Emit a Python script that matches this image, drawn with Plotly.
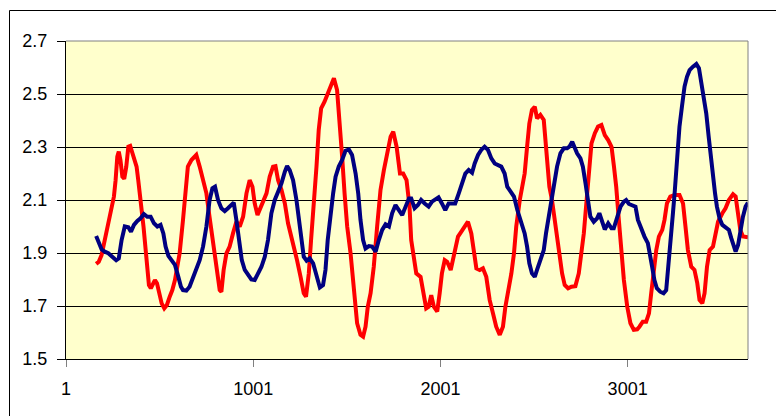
import plotly.graph_objects as go

# ---- data ----
red_x = [162, 176, 191, 203, 216, 230, 244, 257, 266, 275, 283, 292, 302, 312, 323, 334, 344, 355, 366, 378,
         387, 394, 405, 415, 426, 435, 444, 454, 465, 476, 487, 497, 512, 526, 540, 555, 569, 583, 594, 608,
         626, 640, 652, 671, 697, 715, 733, 751, 765, 778, 795, 808, 822, 831, 843, 858, 875, 893, 911, 929,
         947, 965, 982, 997, 1009, 1024, 1036, 1053, 1072, 1089, 1107, 1120, 1134, 1152, 1170, 1187, 1205, 1223, 1235, 1254,
         1271, 1283, 1298, 1310, 1325, 1339, 1351, 1364, 1382, 1400, 1417, 1432, 1449, 1464, 1476, 1489, 1503, 1521, 1539, 1556,
         1574, 1588, 1601, 1613, 1628, 1645, 1663, 1681, 1699, 1717, 1735, 1749, 1767, 1785, 1802, 1820, 1836, 1845, 1859, 1872,
         1895, 1908, 1925, 1938, 1952, 1966, 1984, 1997, 2009, 2024, 2037, 2056, 2068, 2080, 2095, 2112, 2130, 2148, 2166, 2180,
         2193, 2211, 2228, 2246, 2264, 2282, 2299, 2318, 2335, 2348, 2362, 2380, 2394, 2406, 2425, 2440, 2451, 2464, 2476, 2490,
         2505, 2517, 2535, 2553, 2562, 2571, 2583, 2597, 2612, 2624, 2636, 2651, 2665, 2683, 2701, 2722, 2740, 2754, 2767, 2779,
         2794, 2808, 2826, 2843, 2861, 2879, 2897, 2915, 2928, 2940, 2954, 2968, 2981, 2999, 3016, 3034, 3052, 3064, 3082, 3100,
         3115, 3127, 3139, 3154, 3168, 3186, 3198, 3211, 3229, 3252, 3278, 3297, 3310, 3323, 3341, 3358, 3373, 3385, 3400, 3412,
         3425, 3439, 3457, 3471, 3484, 3507, 3524, 3542, 3564, 3578, 3591, 3603, 3617, 3644]
red_y = [1.859, 1.867, 1.892, 1.93, 1.974, 2.025, 2.075, 2.113, 2.175, 2.264, 2.283, 2.25, 2.188, 2.18, 2.226, 2.301, 2.304, 2.276, 2.25, 2.226,
         2.175, 2.113, 2.062, 2.0, 1.924, 1.848, 1.779, 1.767, 1.779, 1.798, 1.786, 1.748, 1.71, 1.691, 1.704, 1.735, 1.76, 1.798, 1.848, 1.899,
         2.025, 2.15, 2.226, 2.251, 2.27, 2.226, 2.175, 2.125, 2.05, 1.987, 1.899, 1.823, 1.76, 1.754, 1.836, 1.899, 1.924, 1.974, 2.018, 2.0,
         2.037, 2.125, 2.175, 2.15, 2.087, 2.043, 2.062, 2.087, 2.125, 2.188, 2.226, 2.228, 2.175, 2.138, 2.087, 2.012, 1.962, 1.899, 1.873, 1.81,
         1.748, 1.735, 1.823, 1.949, 2.075, 2.226, 2.364, 2.446, 2.471, 2.503, 2.54, 2.559, 2.515, 2.39, 2.264, 2.125, 2.0, 1.899, 1.748, 1.635,
         1.591, 1.584, 1.622, 1.697, 1.748, 1.848, 2.0, 2.138, 2.213, 2.276, 2.339, 2.358, 2.301, 2.2, 2.2, 2.175, 2.075, 1.949, 1.873, 1.823,
         1.81, 1.748, 1.691, 1.697, 1.741, 1.697, 1.679, 1.748, 1.823, 1.873, 1.867, 1.836, 1.873, 1.924, 1.962, 1.98, 2.0, 2.018, 1.974, 1.899,
         1.842, 1.836, 1.842, 1.81, 1.723, 1.672, 1.622, 1.591, 1.622, 1.697, 1.748, 1.823, 1.899, 2.0, 2.1, 2.16, 2.2, 2.301, 2.389, 2.44,
         2.452, 2.408, 2.421, 2.402, 2.326, 2.226, 2.15, 2.1, 2.025, 1.949, 1.886, 1.823, 1.779, 1.767, 1.773, 1.775, 1.823, 1.899, 1.974, 2.075,
         2.2, 2.314, 2.352, 2.377, 2.383, 2.345, 2.326, 2.301, 2.226, 2.15, 2.025, 1.899, 1.798, 1.697, 1.635, 1.61, 1.612, 1.622, 1.641, 1.641,
         1.672, 1.748, 1.823, 1.911, 1.962, 1.987, 2.025, 2.087, 2.113, 2.119, 2.119, 2.087, 2.0, 1.911, 1.848, 1.836, 1.786, 1.723, 1.71, 1.748,
         1.848, 1.911, 1.924, 1.974, 2.018, 2.05, 2.069, 2.1, 2.122, 2.113, 2.05, 1.987, 1.962, 1.959]

blue_x = [162, 176, 191, 208, 227, 248, 269, 283, 298, 315, 334, 348, 364, 382, 399, 417, 435, 453, 471, 489,
          506, 521, 533, 548, 565, 583, 601, 615, 626, 644, 661, 679, 697, 715, 733, 751, 768, 783, 797, 813,
          831, 849, 866, 884, 897, 911, 925, 940, 956, 973, 991, 1009, 1027, 1045, 1063, 1080, 1098, 1116, 1134, 1152,
          1170, 1182, 1196, 1214, 1232, 1244, 1257, 1271, 1286, 1303, 1321, 1339, 1357, 1374, 1387, 1399, 1414, 1428, 1441, 1458,
          1476, 1494, 1512, 1529, 1548, 1562, 1574, 1588, 1601, 1619, 1636, 1655, 1672, 1690, 1708, 1726, 1743, 1761, 1779, 1797,
          1815, 1833, 1845, 1863, 1881, 1898, 1917, 1938, 1956, 1973, 1991, 2009, 2027, 2045, 2063, 2080, 2099, 2116, 2134, 2152,
          2170, 2184, 2202, 2219, 2237, 2255, 2273, 2291, 2309, 2326, 2344, 2358, 2377, 2394, 2412, 2430, 2451, 2464, 2476, 2490,
          2505, 2517, 2535, 2553, 2565, 2580, 2597, 2612, 2624, 2642, 2660, 2678, 2690, 2705, 2717, 2731, 2749, 2762, 2776, 2790,
          2802, 2820, 2838, 2850, 2865, 2879, 2897, 2915, 2927, 2945, 2963, 2981, 2993, 3008, 3025, 3043, 3056, 3073, 3091, 3109,
          3121, 3132, 3144, 3157, 3175, 3193, 3207, 3216, 3225, 3234, 3243, 3252, 3261, 3270, 3278, 3291, 3305, 3318, 3332, 3350,
          3368, 3382, 3394, 3407, 3421, 3434, 3446, 3457, 3468, 3478, 3492, 3507, 3524, 3542, 3555, 3567, 3578, 3591, 3603, 3617,
          3631, 3644]
blue_y = [1.964, 1.937, 1.914, 1.905, 1.899, 1.886, 1.873, 1.88, 1.949, 2.0, 1.997, 1.98, 2.006, 2.021, 2.031, 2.047, 2.037, 2.037, 2.012, 2.0,
          2.006, 1.974, 1.924, 1.889, 1.873, 1.855, 1.81, 1.773, 1.76, 1.758, 1.773, 1.804, 1.836, 1.873, 1.924, 2.0, 2.1, 2.144, 2.15, 2.1,
          2.069, 2.058, 2.069, 2.081, 2.09, 2.025, 1.949, 1.873, 1.836, 1.817, 1.8, 1.798, 1.823, 1.848, 1.886, 1.949, 2.05, 2.1, 2.131, 2.163,
          2.207, 2.228, 2.213, 2.175, 2.1, 2.025, 1.949, 1.886, 1.871, 1.88, 1.861, 1.81, 1.77, 1.779, 1.836, 1.949, 2.05, 2.125, 2.188, 2.226,
          2.251, 2.286, 2.291, 2.27, 2.2, 2.125, 2.025, 1.949, 1.917, 1.926, 1.924, 1.905, 1.949, 1.987, 2.008, 2.0, 2.05, 2.081, 2.062, 2.043,
          2.075, 2.106, 2.106, 2.069, 2.081, 2.1, 2.087, 2.075, 2.094, 2.1, 2.11, 2.087, 2.062, 2.087, 2.087, 2.087, 2.125, 2.163, 2.2, 2.213,
          2.203, 2.238, 2.27, 2.289, 2.301, 2.289, 2.257, 2.238, 2.232, 2.226, 2.2, 2.15, 2.131, 2.113, 2.062, 2.02, 1.974, 1.924, 1.861, 1.823,
          1.81, 1.836, 1.873, 1.911, 1.974, 2.037, 2.1, 2.175, 2.226, 2.276, 2.295, 2.295, 2.301, 2.32, 2.295, 2.276, 2.257, 2.226, 2.163, 2.1,
          2.037, 2.018, 2.031, 2.05, 2.018, 1.989, 2.012, 1.993, 1.993, 2.037, 2.075, 2.094, 2.1, 2.085, 2.081, 2.075, 2.025, 1.993, 1.962, 1.937,
          1.899, 1.848, 1.798, 1.767, 1.754, 1.748, 1.76, 1.823, 1.899, 1.974, 2.05, 2.125, 2.226, 2.301, 2.377, 2.452, 2.528, 2.565, 2.59, 2.603,
          2.613, 2.597, 2.54, 2.49, 2.427, 2.339, 2.251, 2.188, 2.125, 2.075, 2.031, 2.006, 1.997, 1.987, 1.955, 1.924, 1.905, 1.93, 1.987, 2.037,
          2.075, 2.09]

x_ticks = [1, 1001, 2001, 3001]
x_tick_labels = ["1", "1001", "2001", "3001"]
y_ticks = [1.5, 1.7, 1.9, 2.1, 2.3, 2.5, 2.7]
y_tick_labels = ["1.5", "1.7", "1.9", "2.1", "2.3", "2.5", "2.7"]
x_range = [1, 3644]
y_range = [1.5, 2.7]

# ---- layout constants ----
W, H = 776, 416
ML, MR, MT, MB = 66, 28, 41, 57
PW, PH = W - ML - MR, H - MT - MB
FONT = "Liberation Sans, Arial, sans-serif"

fig = go.Figure()
fig.add_trace(go.Scatter(x=red_x, y=red_y, mode="lines",
                         line=dict(color="#FF0000", width=4), hoverinfo="skip"))
fig.add_trace(go.Scatter(x=blue_x, y=blue_y, mode="lines",
                         line=dict(color="#000080", width=4), hoverinfo="skip"))

def px_to_paper_x(px):
    return (px - ML) / PW

def py_to_paper_y(py):
    return (H - MB - py) / PH

shapes = [
    # plot-area border (top / right, grey)
    dict(type="line", xref="paper", yref="paper", x0=0, x1=1, y0=1, y1=1,
         line=dict(color="#808080", width=1), layer="above"),
    dict(type="line", xref="paper", yref="paper", x0=1, x1=1, y0=0, y1=1,
         line=dict(color="#808080", width=1), layer="above"),
    # outer chart frame
    dict(type="line", xref="paper", yref="paper",
         x0=px_to_paper_x(9.5), x1=px_to_paper_x(9.5), y0=py_to_paper_y(10.5), y1=py_to_paper_y(420),
         line=dict(color="#000000", width=1)),
    dict(type="line", xref="paper", yref="paper",
         x0=px_to_paper_x(9.5), x1=px_to_paper_x(780), y0=py_to_paper_y(10.5), y1=py_to_paper_y(10.5),
         line=dict(color="#000000", width=1)),
]

fig.update_layout(
    width=W, height=H,
    margin=dict(l=ML, r=MR, t=MT, b=MB, pad=0),
    paper_bgcolor="#FFFFFF",
    plot_bgcolor="#FFFFCC",
    showlegend=False,
    font=dict(family=FONT, size=18, color="#000000"),
    shapes=shapes,
    xaxis=dict(range=x_range, tickmode="array", tickvals=x_ticks, ticktext=x_tick_labels,
               showgrid=False, zeroline=False, showline=True, linecolor="#000000", linewidth=1,
               ticks="outside", ticklen=7, tickcolor="#808080", tickwidth=1,
               tickfont=dict(family=FONT, size=18, color="#000000"), ticklabelstandoff=6),
    yaxis=dict(range=y_range, tickmode="array", tickvals=y_ticks, ticktext=y_tick_labels,
               showgrid=True, gridcolor="#000000", gridwidth=1, zeroline=False,
               showline=True, linecolor="#000000", linewidth=1,
               ticks="outside", ticklen=8, tickcolor="#000000", tickwidth=1,
               tickfont=dict(family=FONT, size=18, color="#000000"), ticklabelstandoff=6),
)

fig.write_html("out.html")
